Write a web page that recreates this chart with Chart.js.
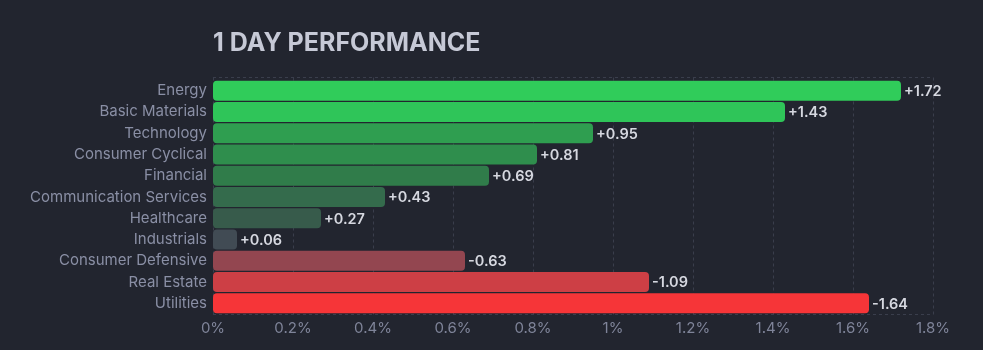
<!DOCTYPE html>
<html>
<head>
<meta charset="utf-8">
<script src="https://cdn.jsdelivr.net/npm/chart.js@4"></script>
<style>
  html, body { margin: 0; padding: 0; background: #22252f; }
  #wrap { width: 983px; height: 350px; position: relative; }
</style>
</head>
<body>
<div id="wrap"><canvas id="c" width="983" height="350"></canvas></div>
<script>
const titleText = "1 DAY PERFORMANCE";
const categories = ["Energy", "Basic Materials", "Technology", "Consumer Cyclical", "Financial", "Communication Services", "Healthcare", "Industrials", "Consumer Defensive", "Real Estate", "Utilities"];
const changes = [1.72, 1.43, 0.95, 0.81, 0.69, 0.43, 0.27, 0.06, -0.63, -1.09, -1.64];
const barColors = ["#30cc5a", "#2fc559", "#2f9e50", "#2f8e4d", "#307c4a", "#346b4c", "#375b4b", "#414b54", "#934650", "#cd3f45", "#f63538"];
const xTicks = [0, 0.2, 0.4, 0.6, 0.8, 1, 1.2, 1.4, 1.6, 1.8];

const FONT = "Inter, 'Noto Sans', sans-serif";
const magnitudes = changes.map(v => Math.abs(v));

const extras = {
  id: 'extras',
  beforeDatasetsDraw(chart) {
    const { ctx, chartArea } = chart;
    const xs = chart.scales.x;
    const top = Math.round(chartArea.top) - 3 + 0.5;
    const bottom = Math.round(chartArea.bottom) + 0.5;
    ctx.save();
    ctx.strokeStyle = '#3a3e4c';
    ctx.lineWidth = 1;
    ctx.setLineDash([3, 3]);
    [top, bottom].forEach(y => {
      ctx.beginPath();
      ctx.moveTo(chartArea.left, y);
      ctx.lineTo(chartArea.right, y);
      ctx.stroke();
    });
    xTicks.forEach(v => {
      const x = Math.round(xs.getPixelForValue(v)) + 0.5;
      ctx.beginPath();
      ctx.moveTo(x, top);
      ctx.lineTo(x, bottom);
      ctx.stroke();
    });
    ctx.restore();
  },
  afterDatasetsDraw(chart) {
    const { ctx, chartArea } = chart;
    const meta = chart.getDatasetMeta(0);
    ctx.save();
    ctx.font = "600 14.5px " + FONT;
    ctx.fillStyle = '#d6d8e0';
    ctx.textAlign = 'left';
    ctx.textBaseline = 'middle';
    meta.data.forEach((bar, i) => {
      const v = changes[i];
      const label = (v >= 0 ? '+' : '-') + Math.abs(v).toFixed(2);
      ctx.fillText(label, bar.x + 3, bar.y + 1);
    });
    ctx.font = "700 25px " + FONT;
    ctx.fillStyle = '#c6c9d6';
    ctx.textBaseline = 'middle';
    ctx.fillText(titleText, chartArea.left, 43);
    ctx.restore();
  }
};

new Chart(document.getElementById('c'), {
  type: 'bar',
  data: {
    labels: categories,
    datasets: [{
      data: magnitudes,
      backgroundColor: barColors,
      borderRadius: 4,
      borderSkipped: false,
      barPercentage: 0.94,
      categoryPercentage: 1.0
    }]
  },
  options: {
    indexAxis: 'y',
    responsive: false,
    animation: false,
    events: [],
    layout: { padding: { left: 0, right: 50, top: 80, bottom: 0 } },
    plugins: { legend: { display: false }, tooltip: { enabled: false }, title: { display: false } },
    scales: {
      x: {
        min: 0, max: 1.8,
        afterBuildTicks(scale) { scale.ticks = xTicks.map(v => ({ value: v })); },
        afterFit(scale) { scale.height = 36; },
        border: { display: false },
        grid: { display: false, drawTicks: false },
        ticks: {
          color: '#7f8499',
          padding: 5,
          font: { family: FONT, size: 15 },
          callback: v => (Math.round(v * 10) / 10) + '%'
        }
      },
      y: {
        afterFit(scale) { scale.width = 213; },
        border: { display: false },
        grid: { display: false, drawTicks: false },
        ticks: { color: '#8a8fa5', padding: 6, font: { family: FONT, size: 15 } }
      }
    }
  },
  plugins: [extras]
});
</script>
</body>
</html>
